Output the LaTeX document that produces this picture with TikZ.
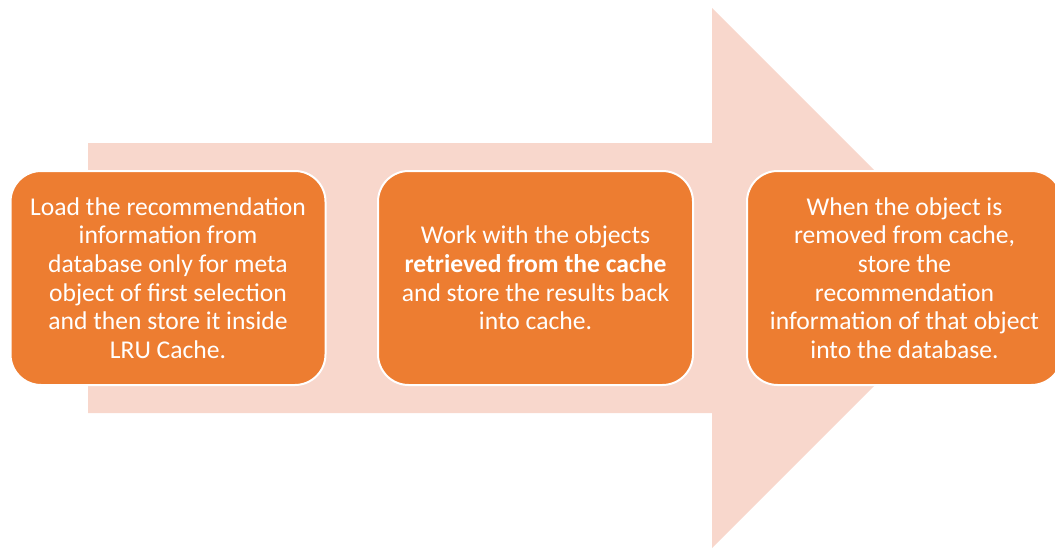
\documentclass[tikz,border=0pt]{standalone}
\usepackage{fontspec}
\setmainfont{Carlito}
\definecolor{boxorange}{HTML}{ED7D31}
\definecolor{arrowpink}{HTML}{F8D7CC}
\begin{document}
\begin{tikzpicture}[x=0.75pt,y=-0.75pt,
  stepbox/.style={draw=white, line width=1.5pt, fill=boxorange, rounded corners=23pt,
    minimum width=315*0.75pt, minimum height=214*0.75pt, text=white, align=center,
    inner sep=0pt, font=\fontsize{19.2}{21.4}\selectfont}]
\useasboundingbox (0,0) rectangle (1055,550);
\clip (0,0) rectangle (1055,550);
\fill[arrowpink] (88,143) -- (712,143) -- (712,8) -- (982,278) -- (712,548) -- (712,413) -- (88,413) -- cycle;
\node[stepbox] (s1) at (168,278) {Load the recommendation\\information from\\database only for meta\\object of first selection\\and then store it inside\\LRU Cache.};
\node[stepbox] (s2) at (535.5,278) {Work with the objects\\\textbf{retrieved from the cache}\\and store the results back\\into cache.};
\node[stepbox] (s3) at (904.5,278) {When the object is\\removed from cache,\\store the\\recommendation\\information of that object\\into the database.};
\end{tikzpicture}
\end{document}
